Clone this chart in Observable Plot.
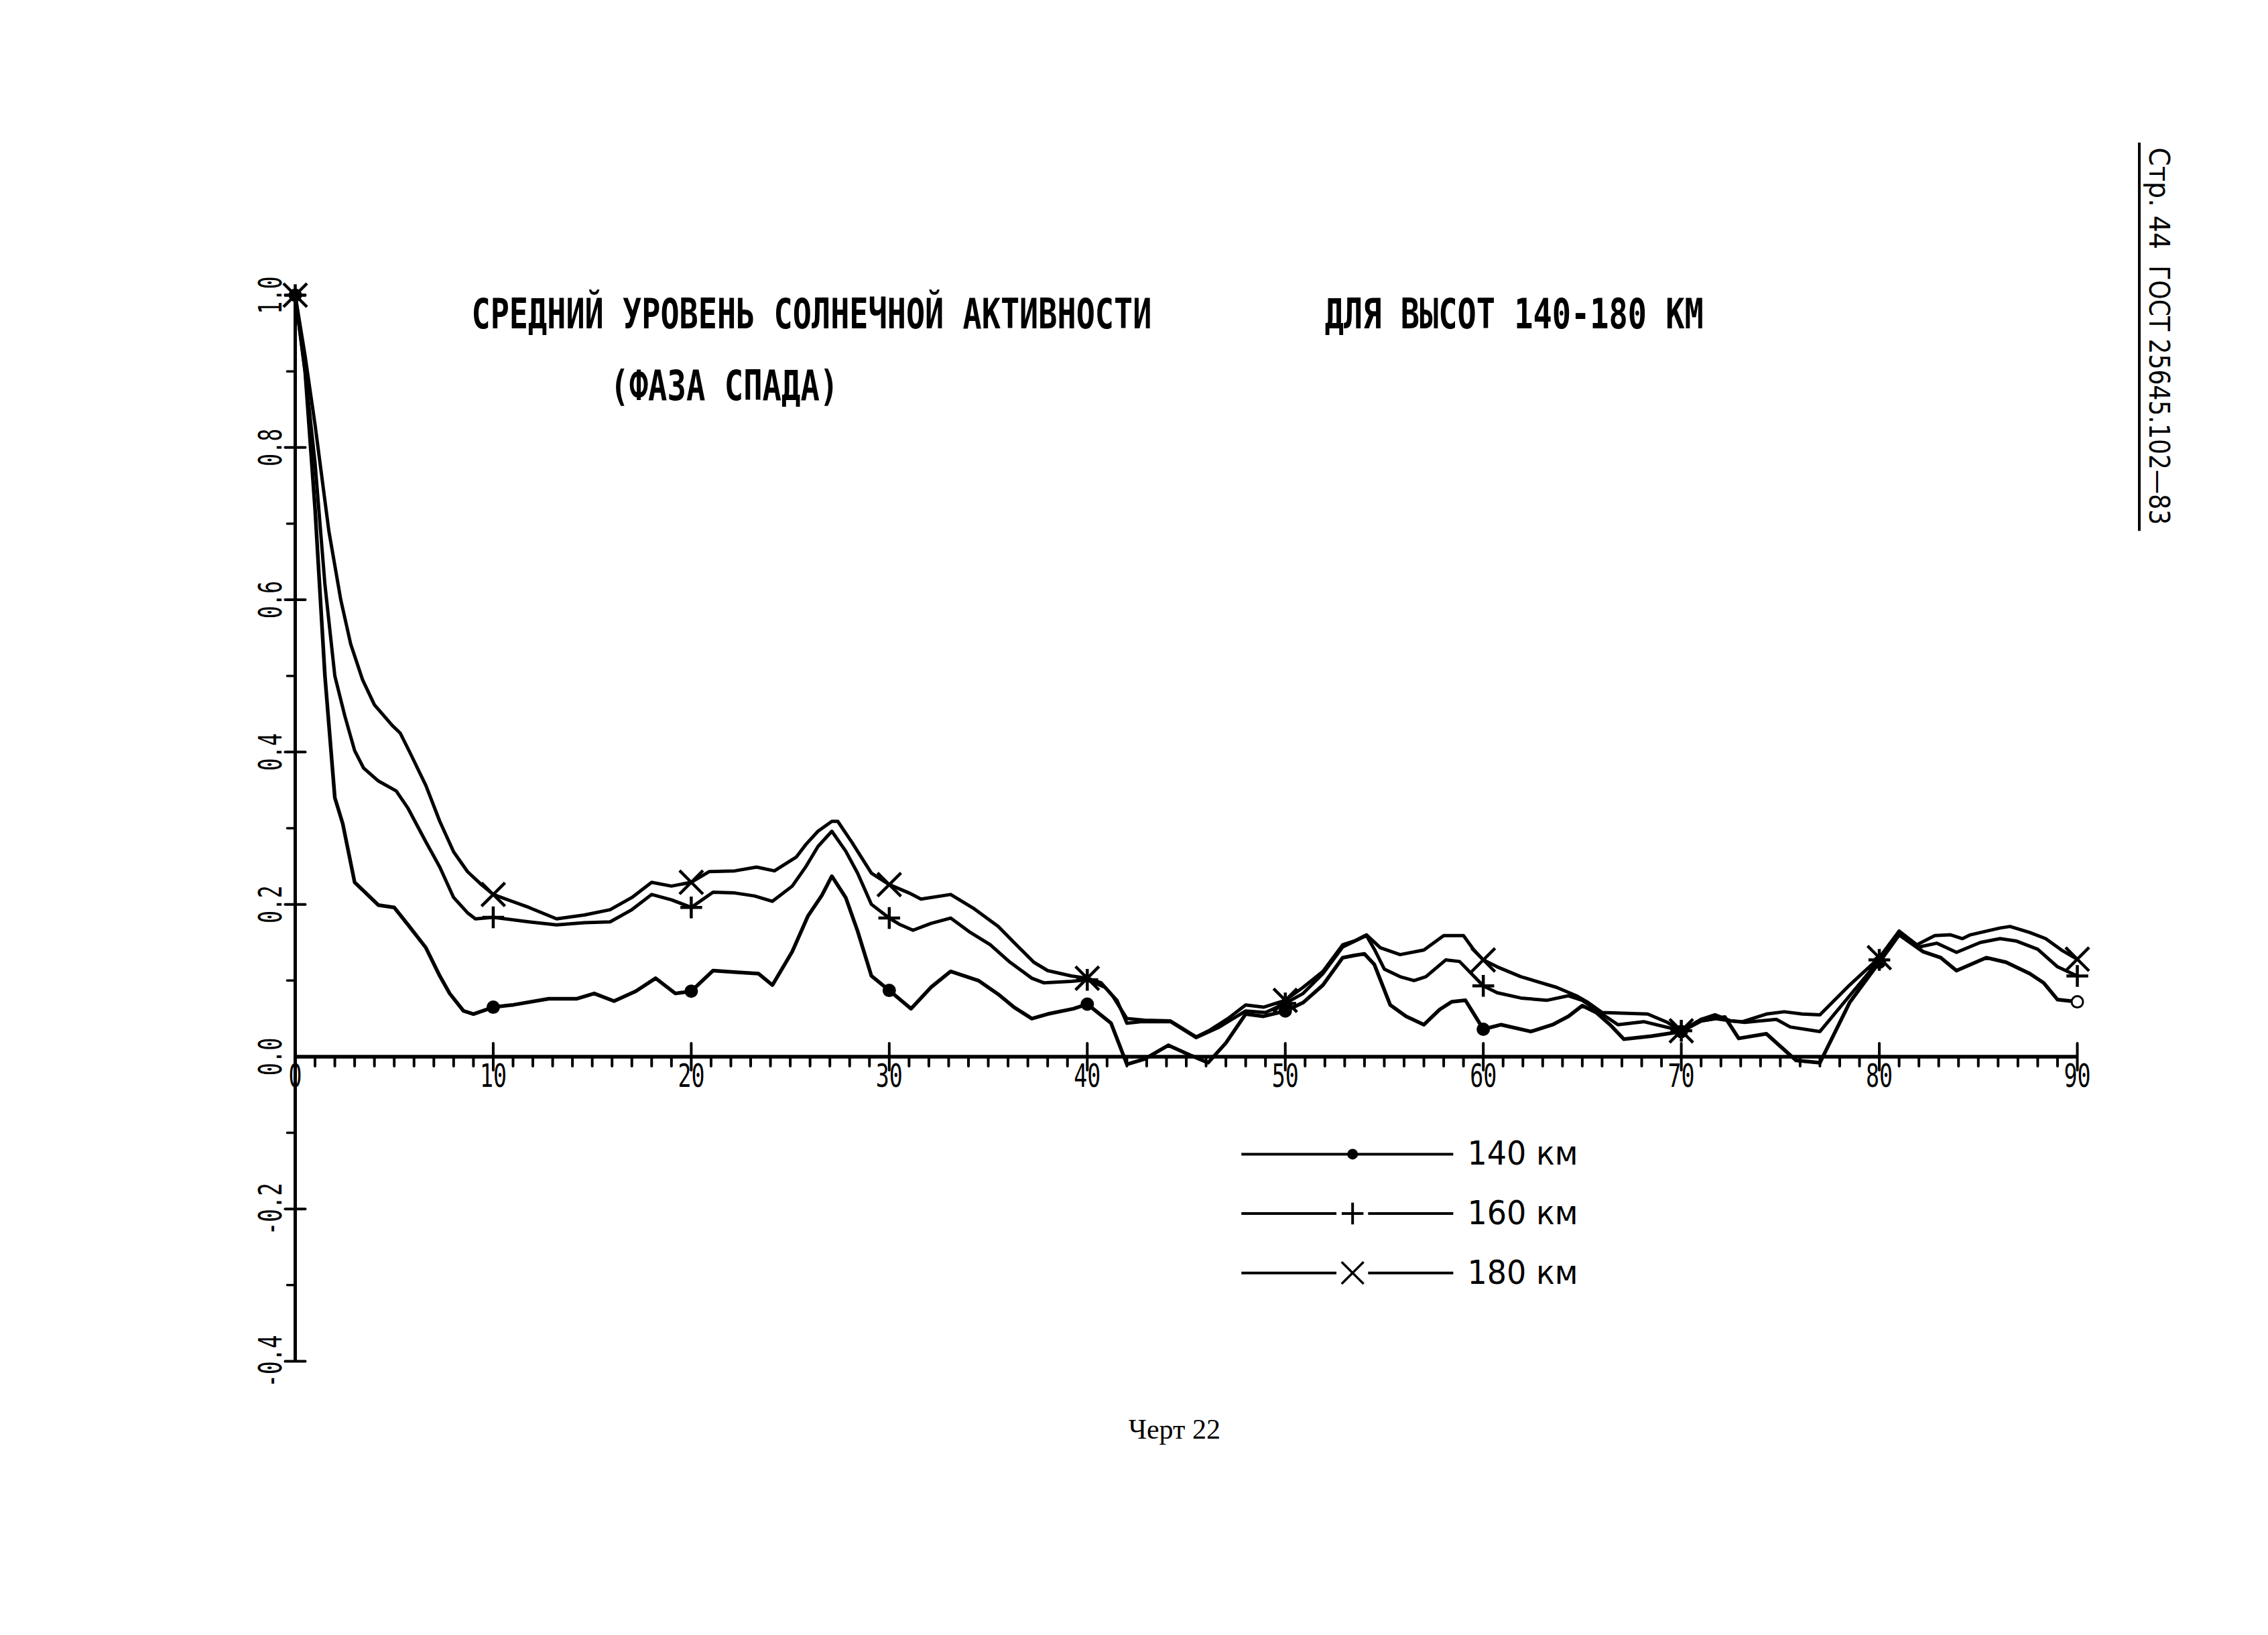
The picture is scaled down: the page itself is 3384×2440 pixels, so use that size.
<!DOCTYPE html>
<html>
<head>
<meta charset="utf-8">
<script src="https://cdn.jsdelivr.net/npm/d3@7"></script>
<script src="https://cdn.jsdelivr.net/npm/@observablehq/plot@0.6"></script>
<style>
  html, body { margin: 0; padding: 0; background: #fff; }
  #chart svg { display: block; }
</style>
</head>
<body>
<div id="chart"></div>
<script>
// ---- data ----
const s140 = [
  [0,1.0],[0.5,0.9],[1,0.72],[1.5,0.5],[2,0.34],[2.4,0.306],[3,0.229],[3.4,0.219],[4.2,0.199],[5,0.196],
  [5.7,0.173],[6.6,0.143],[7.3,0.106],[7.8,0.083],[8.5,0.06],[9,0.056],[10,0.065],[11,0.068],[12.8,0.076],
  [14.2,0.076],[15.1,0.083],[16.1,0.073],[17.2,0.086],[18.2,0.103],[19.2,0.083],[20,0.086],[21.1,0.113],
  [22.2,0.111],[23.4,0.109],[24.1,0.094],[25.1,0.138],[25.9,0.185],[26.6,0.212],[27.1,0.237],[27.8,0.209],
  [28.4,0.165],[29.1,0.106],[30,0.087],[31.1,0.063],[32.1,0.091],[33.1,0.112],[34.5,0.1],[35.5,0.082],
  [36.3,0.065],[37.2,0.05],[38,0.056],[39.3,0.063],[40,0.069],[41.2,0.044],[42,-0.01],[42.9,-0.003],
  [44.1,0.015],[45.2,0.002],[46.1,-0.008],[47,0.018],[48,0.056],[48.9,0.053],[50,0.06],[50.9,0.071],
  [51.9,0.094],[52.9,0.13],[53.5,0.133],[54,0.135],[54.5,0.121],[55.3,0.068],[56.1,0.053],[57,0.042],
  [57.8,0.062],[58.4,0.072],[59.1,0.074],[59.6,0.053],[60,0.036],[60.9,0.042],[62.4,0.033],[63.5,0.042],
  [64.3,0.053],[65,0.067],[65.7,0.058],[66.4,0.042],[67.1,0.023],[68.5,0.027],[70,0.033],[71,0.047],
  [72.2,0.052],[72.9,0.024],[74.3,0.03],[75.8,-0.005],[77,-0.008],[78.5,0.071],[80,0.124],[81,0.16],
  [82.2,0.138],[83.1,0.13],[83.9,0.113],[85.4,0.13],[86.4,0.124],[87.6,0.109],[88.3,0.097],[89,0.075],[90,0.072]
];
const s160 = [
  [0,1.0],[0.5,0.9],[1,0.78],[1.5,0.62],[2,0.5],[2.5,0.448],[3,0.402],[3.45,0.379],[4.2,0.362],[5.1,0.349],
  [5.7,0.326],[6.6,0.282],[7.3,0.249],[8,0.209],[8.7,0.189],[9.1,0.181],[10,0.183],[11.8,0.177],[13.2,0.173],
  [14.6,0.176],[15.9,0.177],[17,0.193],[18,0.213],[19,0.206],[20,0.196],[21.1,0.216],[22.2,0.215],[23.2,0.211],
  [24.1,0.204],[25.1,0.224],[25.8,0.25],[26.4,0.276],[27.1,0.296],[27.8,0.27],[28.4,0.241],[29.1,0.2],
  [30,0.182],[30.5,0.174],[31.2,0.166],[32.1,0.175],[33.1,0.182],[34.1,0.163],[35.1,0.147],[36.1,0.124],
  [37.2,0.103],[37.8,0.097],[39.2,0.099],[40,0.101],[40.9,0.091],[41.5,0.074],[42,0.044],[42.7,0.046],
  [44.2,0.046],[45.5,0.025],[46.6,0.038],[48,0.06],[49,0.058],[50,0.07],[50.9,0.083],[51.9,0.109],
  [52.9,0.144],[54.1,0.159],[54.5,0.141],[55,0.115],[55.8,0.105],[56.5,0.1],[57.1,0.105],[58.1,0.127],
  [58.8,0.125],[59.4,0.109],[60,0.093],[60.7,0.084],[61.9,0.077],[63.2,0.074],[64.3,0.08],[65,0.074],
  [66,0.056],[66.8,0.042],[68.1,0.046],[70,0.034],[71,0.047],[71.7,0.05],[72.5,0.047],[73.2,0.045],
  [74.8,0.049],[75.5,0.039],[77,0.033],[78.5,0.08],[80,0.127],[81,0.162],[82,0.144],[82.9,0.149],
  [83.9,0.137],[85.1,0.15],[86.1,0.155],[86.9,0.152],[88,0.141],[89,0.118],[90,0.106]
];
const s180 = [
  [0,1.0],[0.5,0.92],[1,0.83],[1.7,0.69],[2.3,0.6],[2.8,0.542],[3.4,0.495],[4,0.462],[4.9,0.435],[5.3,0.425],
  [5.8,0.399],[6.6,0.356],[7.3,0.309],[8,0.269],[8.7,0.243],[9.4,0.226],[10,0.213],[11.8,0.196],[13.2,0.181],
  [14.6,0.186],[15.9,0.193],[17,0.209],[18,0.229],[19,0.224],[20,0.229],[20.9,0.243],[22.2,0.244],[23.3,0.249],
  [24.2,0.244],[25.3,0.262],[25.8,0.279],[26.4,0.296],[27.1,0.309],[27.4,0.309],[28.1,0.282],[29.1,0.241],
  [30,0.226],[31,0.215],[31.6,0.207],[33.1,0.213],[34.3,0.194],[35.5,0.171],[36.3,0.15],[37.3,0.124],
  [38,0.113],[39.2,0.106],[40,0.103],[40.7,0.097],[41.3,0.079],[42,0.05],[42.9,0.048],[44.2,0.047],
  [45.5,0.026],[46.2,0.035],[47.1,0.05],[48,0.068],[48.9,0.065],[50,0.074],[50.9,0.091],[51.9,0.112],
  [52.9,0.147],[53.5,0.152],[54.1,0.16],[54.8,0.143],[55.8,0.134],[57,0.14],[58,0.159],[59,0.159],
  [59.5,0.141],[60,0.127],[60.7,0.118],[61.9,0.105],[63.7,0.091],[64.7,0.08],[65.3,0.071],[66,0.058],
  [68.3,0.056],[69.3,0.045],[70,0.034],[71,0.049],[71.7,0.055],[72.5,0.047],[73.1,0.046],[74.3,0.056],
  [75.2,0.059],[76.1,0.056],[77,0.055],[78.5,0.094],[80,0.13],[81,0.165],[81.9,0.147],[82.8,0.159],
  [83.6,0.16],[84.2,0.155],[84.6,0.16],[86.1,0.169],[86.6,0.171],[87.6,0.163],[88.4,0.155],[89.2,0.14],[90,0.128]
];
const seriesNames = ["140 км", "160 км", "180 км"];
const xTickValues = [0, 10, 20, 30, 40, 50, 60, 70, 80, 90];
const yTickValues = [-0.4, -0.2, 0.0, 0.2, 0.4, 0.6, 0.8, 1.0];
const titleLines = ["СРЕДНИЙ УРОВЕНЬ СОЛНЕЧНОЙ АКТИВНОСТИ", "ДЛЯ ВЫСОТ 140-180 КМ", "(ФАЗА СПАДА)"];
const pageHeader = ["Стр. 44", "ГОСТ 25645.102—83"];
const captionText = ["Черт 22"];

// ---- helpers ----
const X = d => d[0], Y = d => d[1];
const isMarker = d => d[0] % 10 === 0;
const lineShape = { draw(ctx, l) { ctx.moveTo(0, 0); ctx.lineTo(0, -l); } };
const minorX = d3.range(1, 90).filter(v => v % 10 !== 0);
const majorX = xTickValues.filter(v => v > 0);
const minorY = d3.range(-3, 10, 2).map(v => v / 10);
const majorY = yTickValues.filter(v => v !== 0);
const fmtY = v => v.toFixed(1);
const legendY = i => -0.128 - i * 0.078;
const plotFont = "DejaVu Sans Mono, monospace";

const chart = Plot.plot({
  width: 3384,
  height: 2440,
  marginLeft: 440,
  marginRight: 285,
  marginTop: 440,
  marginBottom: 409,
  x: { domain: [0, 90], axis: null },
  y: { domain: [-0.4, 1.0], axis: null },
  style: { background: "white", color: "black" },
  marks: [
    // axes
    Plot.ruleY([0], { x1: 0, x2: 90, stroke: "black", strokeWidth: 5.5 }),
    Plot.ruleX([0], { y1: -0.4, y2: 1.0, stroke: "black", strokeWidth: 5 }),
    Plot.vector(minorX, { x: d => d, y: 0, length: 14, rotate: 180, anchor: "start", shape: lineShape, stroke: "black", strokeWidth: 4 }),
    Plot.vector(majorX, { x: d => d, y: 0, length: 40, rotate: 0, anchor: "middle", shape: lineShape, stroke: "black", strokeWidth: 4 }),
    Plot.vector(minorY, { x: 0, y: d => d, length: 12, rotate: -90, anchor: "start", shape: lineShape, stroke: "black", strokeWidth: 3.5 }),
    Plot.vector(majorY, { x: 0, y: d => d, length: 30, rotate: 90, anchor: "middle", shape: lineShape, stroke: "black", strokeWidth: 4 }),
    Plot.text(xTickValues, { x: d => d, y: 0, text: d => String(d), dy: 30, fontSize: 48, fontFamily: plotFont }),
    Plot.text(yTickValues, { x: 0, y: d => d, text: fmtY, rotate: -90, dx: -36, fontSize: 48, fontFamily: plotFont }),

    // curves
    Plot.line(s140, { x: X, y: Y, stroke: "black", strokeWidth: 5.5, strokeLinejoin: "round" }),
    Plot.line(s160, { x: X, y: Y, stroke: "black", strokeWidth: 5, strokeLinejoin: "round" }),
    Plot.line(s180, { x: X, y: Y, stroke: "black", strokeWidth: 5, strokeLinejoin: "round" }),

    // markers
    Plot.dot(s140.filter(isMarker), { x: X, y: Y, r: 8.5, symbol: "circle", fill: d => d[0] === 90 ? "white" : "black", stroke: "black", strokeWidth: 3 }),
    Plot.dot(s160.filter(isMarker), { x: X, y: Y, r: 10.5, symbol: "plus", stroke: "black", strokeWidth: 4.5 }),
    Plot.dot(s180.filter(isMarker), { x: X, y: Y, r: 16, symbol: "times", stroke: "black", strokeWidth: 4.5 }),

    // legend
    Plot.ruleY([0], { y: () => legendY(0), x1: 47.8, x2: 58.5, stroke: "black", strokeWidth: 4 }),
    Plot.ruleY([1, 2], { y: legendY, x1: 47.8, x2: 52.6, stroke: "black", strokeWidth: 4 }),
    Plot.ruleY([1, 2], { y: legendY, x1: 54.2, x2: 58.5, stroke: "black", strokeWidth: 4 }),
    Plot.dot([0], { x: 53.4, y: legendY, r: 8, symbol: "circle", fill: "black" }),
    Plot.dot([1], { x: 53.4, y: legendY, r: 10.5, symbol: "plus", stroke: "black", strokeWidth: 4 }),
    Plot.dot([2], { x: 53.4, y: legendY, r: 15, symbol: "times", stroke: "black", strokeWidth: 3.5 }),
    Plot.text(seriesNames, { x: 59.2, y: (d, i) => legendY(i), text: d => d, textAnchor: "start", fontSize: 50, fontFamily: "DejaVu Sans, sans-serif" }),

    // titles
    Plot.text(titleLines, {
      x: (d, i) => [8.9, 52.0, 15.9][i],
      y: (d, i) => [0.974, 0.974, 0.88][i],
      text: d => d, textAnchor: "start", fontSize: 62, fontWeight: "bold", fontFamily: plotFont
    }),

    // page header (right margin) and caption
    Plot.ruleX([93.13], { y1: 1.2, y2: 0.69, stroke: "black", strokeWidth: 4 }),
    Plot.text(pageHeader, {
      x: 94.1,
      y: (d, i) => [1.194, 1.039][i],
      text: d => d, rotate: 90, textAnchor: "start", fontSize: 42,
      fontFamily: "DejaVu Sans, sans-serif",
      fontWeight: (d, i) => i === 1 ? "bold" : "normal"
    }),
    Plot.text(captionText, { x: 44.4, y: -0.49, text: d => d, fontSize: 42, fontFamily: "Liberation Serif, DejaVu Serif, serif" })
  ]
});

// compress the plotter-like lettering to the widths seen in the reference
const textWidths = new Map([
  [titleLines[0], 1015], [titleLines[1], 565], [titleLines[2], 341],
  [pageHeader[0], 152], [pageHeader[1], 387]
]);
seriesNames.forEach(n => textWidths.set(n, 165));
d3.select(chart).selectAll("text").each(function () {
  const t = this.textContent;
  let L = textWidths.get(t);
  if (L == null && /^-?\d\.\d$/.test(t)) L = t.length > 3 ? 78 : 56;
  if (L == null && /^\d+$/.test(t)) L = t.length > 1 ? 40 : 20;
  if (L != null) d3.select(this).attr("textLength", L).attr("lengthAdjust", "spacingAndGlyphs");
});

document.getElementById("chart").append(chart);
</script>
</body>
</html>
